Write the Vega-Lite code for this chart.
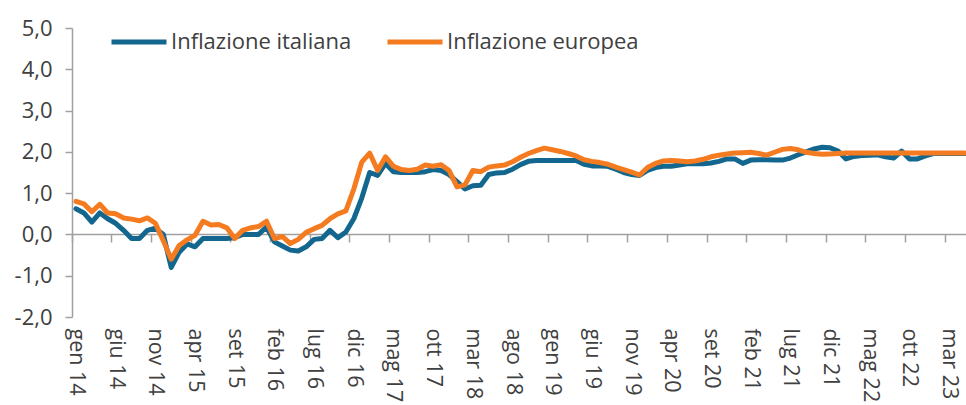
{
"$schema": "https://vega.github.io/schema/vega-lite/v6.json",
"autosize": {"type": "none"},
"width": 897,
"height": 289,
"padding": {"left": 72, "top": 28, "right": 0, "bottom": 88},
"background": "white",
"config": {"view": {"stroke": null}, "font": "Open Sans"},
"data": {"values": [
{"m":"gen 14","it":0.62,"eu":0.8},{"m":"feb 14","it":0.52,"eu":0.74},{"m":"mar 14","it":0.3,"eu":0.55},{"m":"apr 14","it":0.52,"eu":0.73},{"m":"mag 14","it":0.38,"eu":0.52},{"m":"giu 14","it":0.27,"eu":0.5},{"m":"lug 14","it":0.1,"eu":0.4},{"m":"ago 14","it":-0.1,"eu":0.37},{"m":"set 14","it":-0.1,"eu":0.33},{"m":"ott 14","it":0.1,"eu":0.4},{"m":"nov 14","it":0.15,"eu":0.27},{"m":"dic 14","it":0.0,"eu":-0.15},
{"m":"gen 15","it":-0.8,"eu":-0.6},{"m":"feb 15","it":-0.43,"eu":-0.27},{"m":"mar 15","it":-0.23,"eu":-0.13},{"m":"apr 15","it":-0.3,"eu":-0.02},{"m":"mag 15","it":-0.1,"eu":0.32},{"m":"giu 15","it":-0.1,"eu":0.23},{"m":"lug 15","it":-0.1,"eu":0.24},{"m":"ago 15","it":-0.1,"eu":0.16},{"m":"set 15","it":-0.08,"eu":-0.1},{"m":"ott 15","it":0.0,"eu":0.1},{"m":"nov 15","it":0.0,"eu":0.16},{"m":"dic 15","it":0.0,"eu":0.19},
{"m":"gen 16","it":0.18,"eu":0.32},{"m":"feb 16","it":-0.18,"eu":-0.1},{"m":"mar 16","it":-0.28,"eu":-0.05},{"m":"apr 16","it":-0.38,"eu":-0.22},{"m":"mag 16","it":-0.4,"eu":-0.12},{"m":"giu 16","it":-0.3,"eu":0.05},{"m":"lug 16","it":-0.12,"eu":0.14},{"m":"ago 16","it":-0.1,"eu":0.22},{"m":"set 16","it":0.1,"eu":0.38},{"m":"ott 16","it":-0.08,"eu":0.5},{"m":"nov 16","it":0.06,"eu":0.57},{"m":"dic 16","it":0.38,"eu":1.1},
{"m":"gen 17","it":0.88,"eu":1.75},{"m":"feb 17","it":1.5,"eu":1.97},{"m":"mar 17","it":1.43,"eu":1.55},{"m":"apr 17","it":1.72,"eu":1.88},{"m":"mag 17","it":1.52,"eu":1.65},{"m":"giu 17","it":1.5,"eu":1.57},{"m":"lug 17","it":1.5,"eu":1.55},{"m":"ago 17","it":1.5,"eu":1.58},{"m":"set 17","it":1.52,"eu":1.68},{"m":"ott 17","it":1.57,"eu":1.65},{"m":"nov 17","it":1.55,"eu":1.69},{"m":"dic 17","it":1.45,"eu":1.55},
{"m":"gen 18","it":1.28,"eu":1.15},{"m":"feb 18","it":1.1,"eu":1.2},{"m":"mar 18","it":1.18,"eu":1.55},{"m":"apr 18","it":1.19,"eu":1.52},{"m":"mag 18","it":1.45,"eu":1.63},{"m":"giu 18","it":1.49,"eu":1.66},{"m":"lug 18","it":1.5,"eu":1.68},{"m":"ago 18","it":1.58,"eu":1.76},{"m":"set 18","it":1.69,"eu":1.87},{"m":"ott 18","it":1.77,"eu":1.96},{"m":"nov 18","it":1.79,"eu":2.03},{"m":"dic 18","it":1.79,"eu":2.09},
{"m":"gen 19","it":1.79,"eu":2.05},{"m":"feb 19","it":1.79,"eu":2.01},{"m":"mar 19","it":1.79,"eu":1.96},{"m":"apr 19","it":1.79,"eu":1.9},{"m":"mag 19","it":1.7,"eu":1.81},{"m":"giu 19","it":1.66,"eu":1.77},{"m":"lug 19","it":1.66,"eu":1.74},{"m":"ago 19","it":1.65,"eu":1.7},{"m":"set 19","it":1.58,"eu":1.63},{"m":"ott 19","it":1.5,"eu":1.57},{"m":"nov 19","it":1.45,"eu":1.51},{"m":"dic 19","it":1.43,"eu":1.44},
{"m":"gen 20","it":1.55,"eu":1.62},{"m":"feb 20","it":1.62,"eu":1.72},{"m":"mar 20","it":1.65,"eu":1.78},{"m":"apr 20","it":1.65,"eu":1.79},{"m":"mag 20","it":1.68,"eu":1.78},{"m":"giu 20","it":1.71,"eu":1.76},{"m":"lug 20","it":1.71,"eu":1.78},{"m":"ago 20","it":1.71,"eu":1.82},{"m":"set 20","it":1.73,"eu":1.88},{"m":"ott 20","it":1.77,"eu":1.92},{"m":"nov 20","it":1.83,"eu":1.95},{"m":"dic 20","it":1.83,"eu":1.97},
{"m":"gen 21","it":1.72,"eu":1.98},{"m":"feb 21","it":1.8,"eu":1.99},{"m":"mar 21","it":1.81,"eu":1.96},{"m":"apr 21","it":1.81,"eu":1.92},{"m":"mag 21","it":1.8,"eu":1.99},{"m":"giu 21","it":1.8,"eu":2.06},{"m":"lug 21","it":1.85,"eu":2.08},{"m":"ago 21","it":1.93,"eu":2.05},{"m":"set 21","it":2.0,"eu":1.99},{"m":"ott 21","it":2.07,"eu":1.96},{"m":"nov 21","it":2.11,"eu":1.94},{"m":"dic 21","it":2.1,"eu":1.95},
{"m":"gen 22","it":2.02,"eu":1.96},{"m":"feb 22","it":1.83,"eu":1.97},{"m":"mar 22","it":1.89,"eu":1.97},{"m":"apr 22","it":1.91,"eu":1.97},{"m":"mag 22","it":1.92,"eu":1.97},{"m":"giu 22","it":1.93,"eu":1.97},{"m":"lug 22","it":1.88,"eu":1.97},{"m":"ago 22","it":1.85,"eu":1.97},{"m":"set 22","it":2.02,"eu":1.97},{"m":"ott 22","it":1.83,"eu":1.97},{"m":"nov 22","it":1.83,"eu":1.97},{"m":"dic 22","it":1.9,"eu":1.97},
{"m":"gen 23","it":1.96,"eu":1.97},{"m":"feb 23","it":1.96,"eu":1.97},{"m":"mar 23","it":1.96,"eu":1.97},{"m":"apr 23","it":1.96,"eu":1.97},{"m":"mag 23","it":1.96,"eu":1.97}
]},
"encoding": {
  "x": {"field": "m", "type": "ordinal", "sort": null,
    "scale": {"type": "band", "paddingInner": 0, "paddingOuter": 0},
    "axis": {"title": null, "orient": "bottom", "offset": -83, "bandPosition": 0,
      "values": ["gen 14","giu 14","nov 14","apr 15","set 15","feb 16","lug 16","dic 16","mag 17","ott 17","mar 18","ago 18","gen 19","giu 19","nov 19","apr 20","set 20","feb 21","lug 21","dic 21","mag 22","ott 22","mar 23"],
      "labelAngle": 90, "labelAlign": "left", "labelBaseline": "middle", "labelOffset": 0,
      "labelFontSize": 21.5, "labelColor": "#404040", "labelFont": "Open Sans", "labelPadding": 86,
      "domainColor": "#a0a0a0", "domainWidth": 1.5, "tickColor": "#a0a0a0", "tickWidth": 1.5, "tickSize": 8,
      "grid": false, "labelOverlap": false}
  }
},
"layer": [
  {"mark": {"type": "line", "strokeWidth": 5, "strokeJoin": "round", "strokeCap": "round"},
   "encoding": {
     "y": {"field": "it", "type": "quantitative",
       "scale": {"domain": [-2, 5], "nice": false, "zero": false},
       "axis": {"title": null, "values": [-2,-1,0,1,2,3,4,5], "grid": false,
         "labelExpr": "replace(replace(format(datum.value, '.1f'), '.', ','), '\u2212', '-')",
         "labelFontSize": 22, "labelColor": "#404040", "labelFont": "Open Sans", "labelPadding": 13,
         "domainColor": "#a0a0a0", "domainWidth": 1.5, "tickColor": "#a0a0a0", "tickWidth": 1.5, "tickSize": 7}},
     "color": {"datum": "Inflazione italiana", "type": "nominal",
       "scale": {"domain": ["Inflazione italiana", "Inflazione europea"], "range": ["#13678f", "#f47b20"]},
       "legend": {"title": null, "orient": "none", "legendX": 37, "legendY": -16, "direction": "horizontal",
         "symbolType": "stroke", "symbolSize": 3025, "symbolStrokeWidth": 5, "labelFontSize": 22,
         "labelFont": "Open Sans", "labelColor": "#404040", "labelOffset": 2, "labelLimit": 400, "columnPadding": 25, "padding": 0}}
   }},
  {"mark": {"type": "line", "strokeWidth": 5, "strokeJoin": "round", "strokeCap": "round"},
   "encoding": {
     "y": {"field": "eu", "type": "quantitative"},
     "color": {"datum": "Inflazione europea", "type": "nominal"}
   }}
]
}
